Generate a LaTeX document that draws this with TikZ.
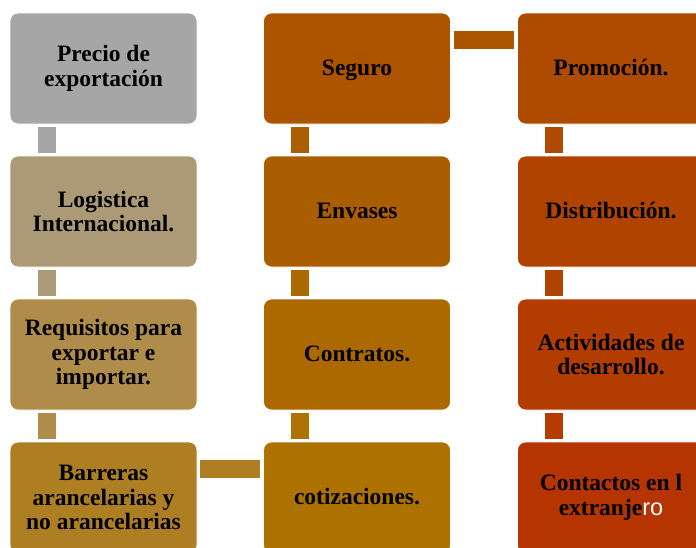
\documentclass[tikz,border=0pt]{standalone}
\usepackage{fontspec}
\setmainfont{Liberation Serif}
\setsansfont{Liberation Sans}
\definecolor{cA}{HTML}{A6A6A6}
\definecolor{cB}{HTML}{AC9A76}
\definecolor{cC}{HTML}{B08C4B}
\definecolor{cD}{HTML}{AE7E22}
\definecolor{cE}{HTML}{AD7200}
\definecolor{cF}{HTML}{AB6900}
\definecolor{cG}{HTML}{AB5E00}
\definecolor{cH}{HTML}{AC5400}
\definecolor{cI}{HTML}{AF4B00}
\definecolor{cJ}{HTML}{B14300}
\definecolor{cK}{HTML}{B33C00}
\definecolor{cL}{HTML}{B53400}

\begin{document}
\begin{tikzpicture} [x=1pt,y=-1pt,
  caja/.style={rectangle,rounded corners=8pt,minimum width=187pt,minimum height=111pt,
    draw=white,line width=.8pt,fill=#1,align=center,inner sep=0pt,
    font=\fontsize{23.5}{24.5}\selectfont\bfseries},
  unalinea/.style={text height=15pt,text depth=1pt},
  barra/.style={draw=#1,line width=18pt,shorten <=3pt,shorten >=3pt}]
\useasboundingbox (0,0) rectangle (696,547);
\clip (0,0) rectangle (696,547);
\node[caja=cA] (precio) at (103.5,68.5) {Precio de\\exportación};
\node[caja=cB] (logistica) at (103.5,211.5) {Logistica\\Internacional.};
\node[caja=cC] (requisitos) at (103.5,354.5) {Requisitos para\\exportar e\\importar.};
\node[caja=cD] (barreras) at (103.5,497.5) {Barreras\\arancelarias y\\no arancelarias};
\node[caja=cE,unalinea] (cotizaciones) at (357,497.5) {cotizaciones.};
\node[caja=cF,unalinea] (contratos) at (357,354.5) {Contratos.};
\node[caja=cG,unalinea] (envases) at (357,211.5) {Envases};
\node[caja=cH,unalinea] (seguro) at (357,68.5) {Seguro};
\node[caja=cI,unalinea] (promocion) at (611,68.5) {Promoción.};
\node[caja=cJ,unalinea] (distribucion) at (611,211.5) {Distribución.};
\node[caja=cK] (actividades) at (611,354.5) {Actividades de\\desarrollo.};
\node[caja=cL] (contactos) at (611,497.5) {Contactos en l\\extranje{\color{white}\mdseries\sffamily ro}};
\draw[barra=cA] ([xshift=37pt]precio.south west) -- ([xshift=37pt]logistica.north west);
\draw[barra=cB] ([xshift=37pt]logistica.south west) -- ([xshift=37pt]requisitos.north west);
\draw[barra=cC] ([xshift=37pt]requisitos.south west) -- ([xshift=37pt]barreras.north west);
\draw[barra=cD] ([yshift=-27pt]barreras.north east) -- ([yshift=-27pt]cotizaciones.north west);
\draw[barra=cE] ([xshift=37pt]cotizaciones.north west) -- ([xshift=37pt]contratos.south west);
\draw[barra=cF] ([xshift=37pt]contratos.north west) -- ([xshift=37pt]envases.south west);
\draw[barra=cG] ([xshift=37pt]envases.north west) -- ([xshift=37pt]seguro.south west);
\draw[barra=cH] ([yshift=-27pt]seguro.north east) -- ([yshift=-27pt]promocion.north west);
\draw[barra=cI] ([xshift=37pt]promocion.south west) -- ([xshift=37pt]distribucion.north west);
\draw[barra=cJ] ([xshift=37pt]distribucion.south west) -- ([xshift=37pt]actividades.north west);
\draw[barra=cK] ([xshift=37pt]actividades.south west) -- ([xshift=37pt]contactos.north west);
\end{tikzpicture}
\end{document}
